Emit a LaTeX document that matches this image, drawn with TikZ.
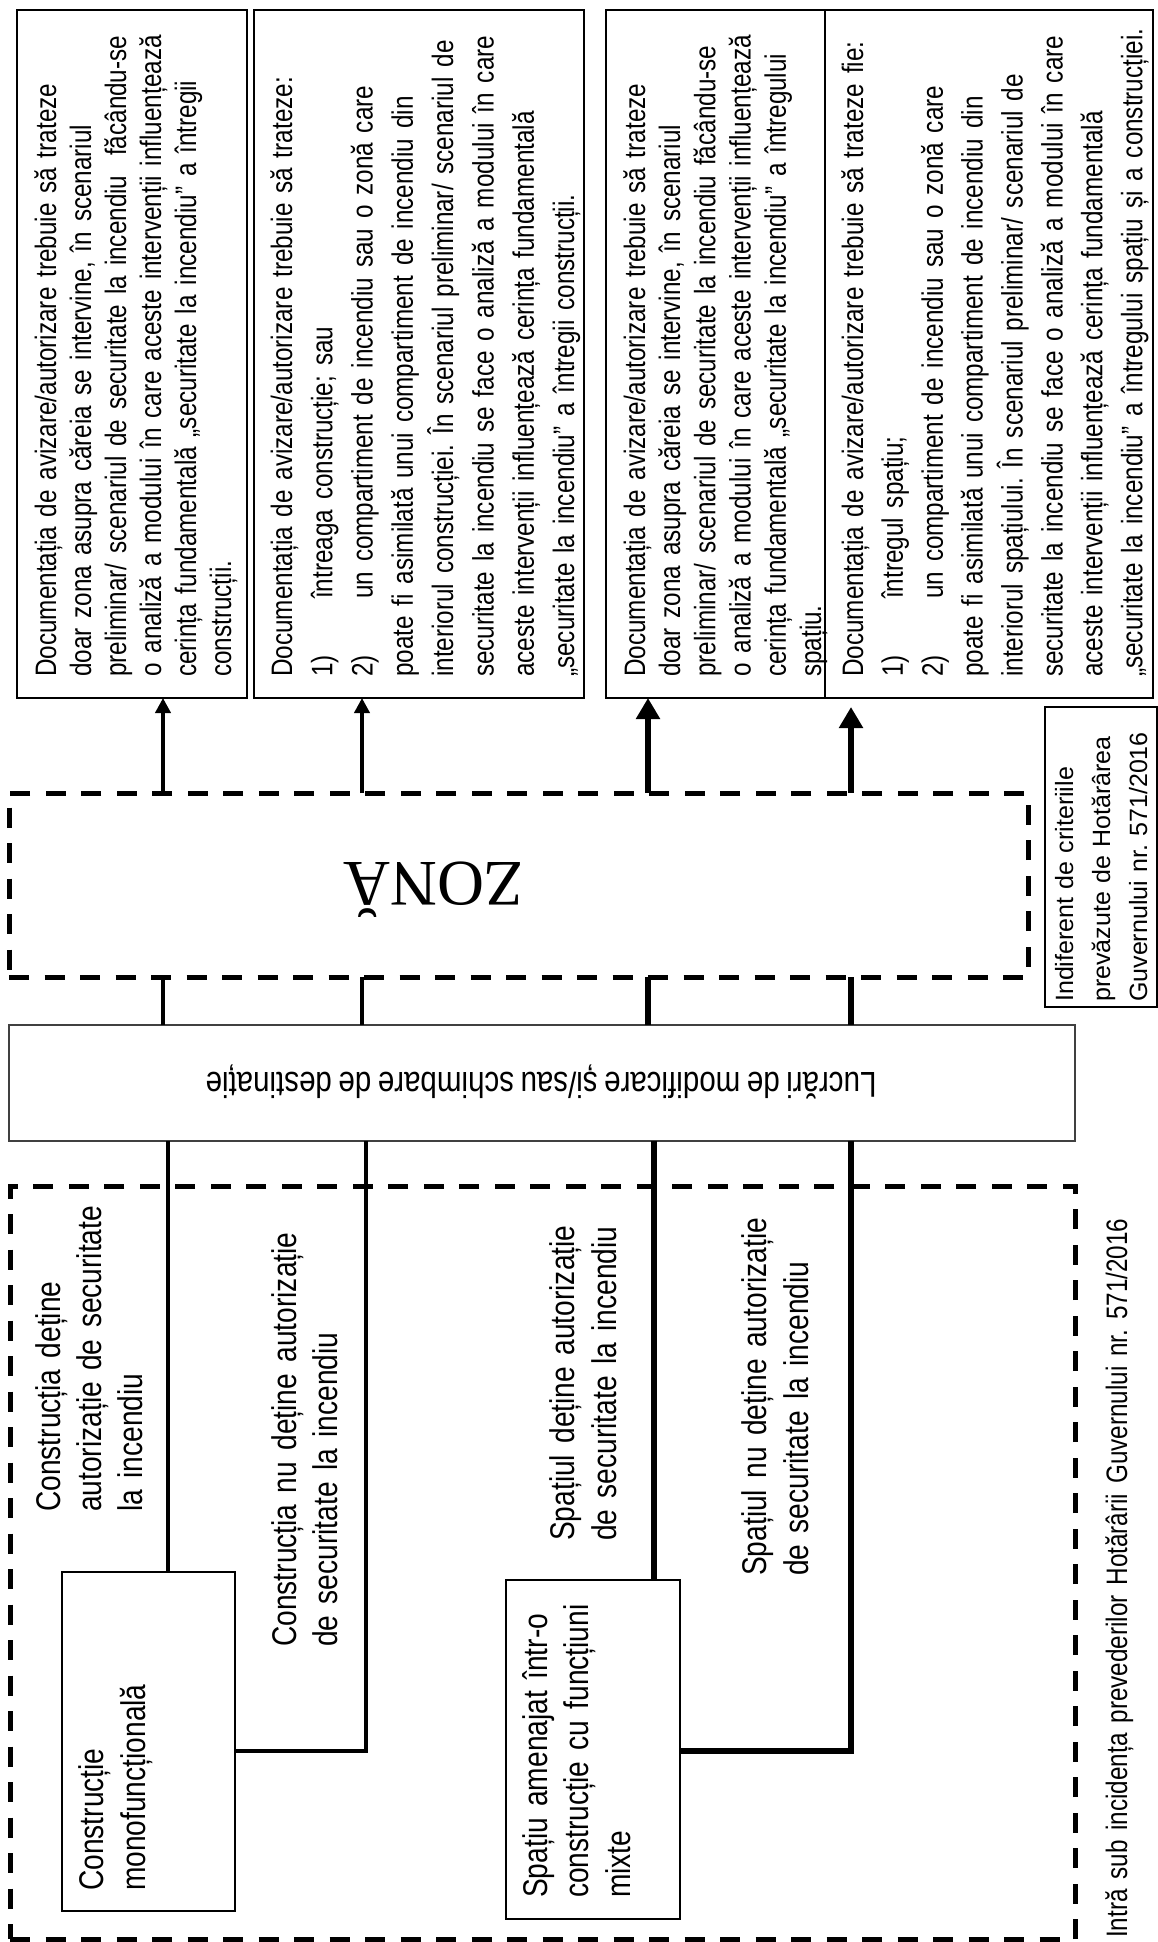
\documentclass[tikz,border=0pt]{standalone}
\usepackage{fontspec}
\setmainfont{Liberation Sans}
\newfontfamily\narrowfont{Liberation Sans}[FakeStretch=0.82,WordSpace=0.8]
\newfontfamily\zonafont{Liberation Serif}
\usetikzlibrary{arrows.meta,calc}
\tikzset{
  box/.style={draw, line width=2pt, inner sep=0pt, outer sep=0pt},
  thinbox/.style={draw, line width=1.5pt, inner sep=0pt, outer sep=0pt},
  dashbox/.style={draw, line width=5pt, dash pattern=on 20pt off 15.5pt, inner sep=0pt, outer sep=0pt},
  rtext/.style={rotate=90, anchor=base west, inner sep=0pt, align=left, text width=700pt},
  thinline/.style={line width=4.5pt},
  thickline/.style={line width=6.5pt},
  thinarrow/.style={thinline, -{Triangle[length=15pt,width=15pt]}},
  thickarrow/.style={thickline, -{Triangle[length=21pt,width=23pt]}},
  boxfont/.style={font=\narrowfont\fontsize{29.6}{#1}\selectfont},
  lowfont/.style={font=\narrowfont\fontsize{34.3}{#1}\selectfont},
}
\begin{document}
\frenchspacing
\begin{tikzpicture}[x=1pt,y=-1pt]
\useasboundingbox (0,0) rectangle (1158,1942);
\fill[white] (0,0) rectangle (1158,1942);

% column coordinates
\coordinate (c1) at (163,0);
\coordinate (c2) at (362,0);
\coordinate (c3) at (648,0);
\coordinate (c4) at (851,0);
\coordinate (d1) at (168,0);
\coordinate (d2) at (366,0);
\coordinate (d3) at (654,0);
\coordinate (d4) at (851,0);
\coordinate (k) at (0,1751);

% top boxes
\node[box, minimum width=230pt, minimum height=688pt] (b1) at (132,354) {};
\node[box, minimum width=330pt, minimum height=688pt] (b2) at (419,354) {};
\node[box, minimum width=219pt, minimum height=688pt] (b3) at (715.5,354) {};
\node[box, minimum width=328pt, minimum height=688pt] (b4) at (989,354) {};

\node[rtext, boxfont=35] (t1) at (56,677) {Documentația de avizare/autorizare trebuie să trateze\\
doar zona asupra căreia se intervine, în scenariul\\
preliminar/ scenariul de securitate la incendiu~ făcându-se\\
o analiză a modului în care aceste intervenții influențează\\
cerința fundamentală „securitate la incendiu” a întregii\\
construcții.};

\node[rtext, boxfont=40.3] (t2) at (292,677) {Documentația de avizare/autorizare trebuie să trateze:\\
\makebox[78pt][l]{1)}întreaga construcție; sau\\
\makebox[78pt][l]{2)}un compartiment de incendiu sau o zonă care\\
poate fi asimilată unui compartiment de incendiu din\\
interiorul construcției. În scenariul preliminar/ scenariul de\\
securitate la incendiu se face o analiză a modului în care\\
aceste intervenții influențează cerința fundamentală\\
„securitate la incendiu” a întregii construcții.};

\node[rtext, boxfont=35.2] (t3) at (645,677) {Documentația de avizare/autorizare trebuie să trateze\\
doar zona asupra căreia se intervine, în scenariul\\
preliminar/ scenariul de securitate la incendiu făcându-se\\
o analiză a modului în care aceste intervenții influențează\\
cerința fundamentală „securitate la incendiu” a întregului\\
spațiu.};

\node[rtext, boxfont=39.9] (t4) at (863,677) {Documentația de avizare/autorizare trebuie să trateze fie:\\
\makebox[78pt][l]{1)}întregul spațiu;\\
\makebox[78pt][l]{2)}un compartiment de incendiu sau o zonă care\\
poate fi asimilată unui compartiment de incendiu din\\
interiorul spațiului. În scenariul preliminar/ scenariul de\\
securitate la incendiu se face o analiză a modului în care\\
aceste intervenții influențează cerința fundamentală\\
„securitate la incendiu” a întregului spațiu și a construcției.};

% ZONA
\node[dashbox, minimum width=1019pt, minimum height=184pt] (zona) at (518.5,885) {};
\node[rotate=180, anchor=base, inner sep=0pt, font=\zonafont\fontsize{65}{78}\selectfont] (zt) at (433.5,862) {ZONĂ};

% Indiferent box
\node[thinbox, minimum width=112pt, minimum height=300pt] (indif) at (1101,857) {};
\node[rtext, font=\fontsize{25}{37}\selectfont] (it) at (1073,1002) {Indiferent de criteriile\\
prevăzute de Hotărârea\\
Guvernului nr. 571/2016};

% Lucrari
\node[thinbox, draw=black!75, minimum width=1066pt, minimum height=116pt] (luc) at (542,1083) {};
\node[rotate=180, anchor=base, inner sep=0pt, font=\narrowfont\fontsize{36}{40}\selectfont] (lt) at (541,1072) {Lucrări de modificare și/sau schimbare de destinație};

% lower dashed region
\node[dashbox, minimum width=1065pt, minimum height=753pt] (low) at (542.5,1562.5) {};
\node[thinbox, minimum width=173pt, minimum height=339pt] (mono) at (148.5,1741.5) {};
\node[thinbox, minimum width=174pt, minimum height=339pt] (spatiu) at (593,1749.5) {};

\node[rtext, lowfont=42] (m1) at (103,1891) {Construcție\\ monofuncțională};
\node[rtext, lowfont=41.5] (s1) at (547,1898) {Spațiu amenajat într-o\\ construcție cu funcțiuni\\ mixte};
\node[rtext, lowfont=41] (l1) at (60,1512) {Construcția deține\\ autorizație de securitate\\ la incendiu};
\node[rtext, lowfont=41] (l2) at (296,1647) {Construcția nu deține autorizație\\ de securitate la incendiu};
\node[rtext, lowfont=42] (l3) at (574,1541) {Spațiul deține autorizație\\ de securitate la incendiu};
\node[rtext, lowfont=42] (l4) at (766,1576) {Spațiul nu deține autorizație\\ de securitate la incendiu};
\node[rtext, boxfont=36, text width=1000pt] (intra) at (1127,1938) {Intră sub incidența prevederilor Hotărârii Guvernului nr. 571/2016};

% arrows up
\draw[thinarrow] (zona.north -| c1) -- (b1.south -| c1);
\draw[thinarrow] (zona.north -| c2) -- (b2.south -| c2);
\draw[thickarrow] (zona.north -| c3) -- (b3.south -| c3);
\draw[thickarrow] (zona.north -| c4) -- ($(b4.south -| c4)+(0,9)$);

% zona to lucrari
\draw[thinline] (zona.south -| c1) -- (luc.north -| c1);
\draw[thinline] (zona.south -| c2) -- (luc.north -| c2);
\draw[thickline] (zona.south -| c3) -- (luc.north -| c3);
\draw[thickline] (zona.south -| c4) -- (luc.north -| c4);

% lucrari to lower boxes
\draw[thinline] (luc.south -| d1) -- (mono.north -| d1);
\draw[thinline] (luc.south -| d2) |- (mono.east |- k);
\draw[thickline] (luc.south -| d3) -- (spatiu.north -| d3);
\draw[thickline] (luc.south -| d4) |- (spatiu.east |- k);
\end{tikzpicture}
\end{document}
